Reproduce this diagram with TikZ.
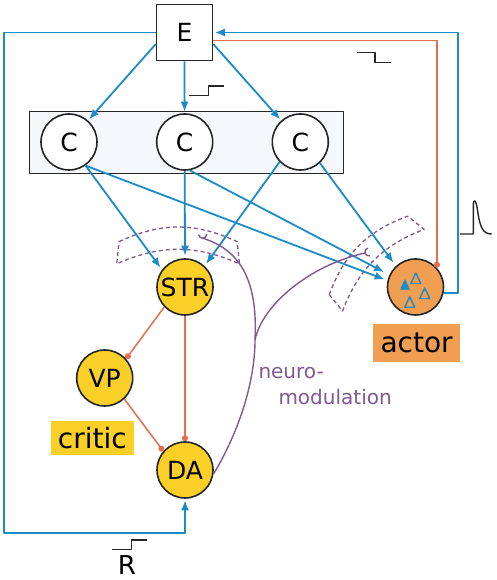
\documentclass[tikz,border=0pt]{standalone}
\usepackage{fontspec}
\setmainfont{DejaVu Sans}
\usetikzlibrary{arrows.meta}

\definecolor{axonblue}{RGB}{27,140,200}
\definecolor{inhibred}{RGB}{224,112,80}
\definecolor{critfill}{RGB}{250,208,40}
\definecolor{actfill}{RGB}{239,158,82}
\definecolor{modul}{RGB}{128,88,148}
\definecolor{boxgray}{RGB}{245,247,250}

\tikzset{
  synband/.pic={
    \draw[modul,line width=1.3pt,dash pattern=on 4pt off 3pt]
      (-59,11.3) to[bend left=25] (59,11.3) -- (61.4,-11)
      to[bend right=24] (-61.4,-11) -- cycle;
  }
}

\begin{document}
\begin{tikzpicture}[x=1pt,y=1pt,line join=round,
  unit/.style={circle,draw=black!85,line width=1.6pt,minimum size=56pt,inner sep=0pt,font=\fontsize{25}{30}\selectfont},
  crit/.style={unit,fill=critfill},
  feed/.style={axonblue,line width=1.8pt,-{Latex[length=10pt,width=8pt]},shorten >=1.5pt},
  inhib/.style={inhibred,line width=1.5pt,-{Circle[length=6pt]}},
  modline/.style={modul,line width=1.4pt},
  signal/.style={black!85,line width=1.4pt},
  tag/.style={inner sep=0pt,font=\fontsize{28}{34}\selectfont}]

\def\tw{5} %triangle half width
\def\th{10.5} %triangle height
\def\cr{4} %cup radius

\fill[white] (0,0) rectangle (497,580);
\useasboundingbox (0,0) rectangle (497,580);

%environment and cortex
\node[draw=black!85,line width=1.6pt,minimum size=56pt,inner sep=0pt,font=\fontsize{25}{30}\selectfont] (E) at (184.5,547.5) {E};
\node[draw=black!85,line width=1.6pt,fill=boxgray,minimum width=314pt,minimum height=62pt] (cbox) at (186.65,437.65) {};
\node[unit,fill=white] (C1) at (69,438) {C};
\node[unit,fill=white] (C2) at (184.7,438) {C};
\node[unit,fill=white] (C3) at (300.3,438) {C};

%critic
\node[crit] (STR) at (185,293) {STR};
\node[crit] (VP) at (104.7,202) {VP};
\node[crit] (DA) at (185,110) {DA};
\node[tag,fill=critfill,minimum width=83.3pt,minimum height=34.3pt] (criticlabel) at (92.35,141.8) {critic};

%actor
\node[unit,fill=actfill] (actor) at (415.5,293) {};
\node[tag,fill=actfill,minimum width=86.7pt,minimum height=37.7pt] (actorlabel) at (416.65,237.15) {actor};
\fill[axonblue] ([shift={(-10.5-\tw,2.7-\th/2)}]actor.center) -- ++(2*\tw,0) -- ++(-\tw,\th) -- cycle;
\foreach \dx/\dy in {0.3/8.7, 9.2/-6.3, -5.8/-15}
  \draw[axonblue,line width=1.4pt] ([shift={(\dx-\tw,\dy-\th/2)}]actor.center) -- ++(2*\tw,0) -- ++(-\tw,\th) -- cycle;

%synapse bands
\pic at (178.1,327.1) {synband};
\pic[rotate=45,scale=.94] at (376,317.1) {synband};

%E to cortex
\draw[feed] (E.202) -- (C1);
\draw[feed] (E.south) -- (C2);
\draw[feed] (E.-22) -- (C3);

%cortex to striatum and actor
\draw[feed,shorten >=2.5pt] (C1.-55) -- (STR.143);
\draw[feed,shorten >=2.5pt] (C2.south) -- (STR.north);
\draw[feed,shorten >=2.5pt] (C3.224) -- (STR.47);
\draw[feed,shorten >=3pt] (C1.-55) -- (actor.167);
\draw[feed,shorten >=6pt] (C2.-80) -- (actor.155);
\draw[feed,shorten >=4pt] (C3.-47) -- (actor.133);

%loops
\coordinate (rc) at (4.3,47);
\coordinate (rtop) at (458.3,547.5);
\draw[feed] (E.west) -| (rc) -| (DA.south);
\draw[feed] (actor.-12) -| (rtop) -- (E.east);
\draw[inhib] ([yshift=-8pt]E.east) -| (actor.42);

%critic wiring
\draw[inhib] (STR.224) -- (VP.42);
\draw[inhib] (STR.south) -- (DA.north);
\draw[inhib] (VP.-47) -- (DA.139.6);

%neuromodulation
\coordinate (nm) at (255,240);
\coordinate (sA) at (203,341.7);
\coordinate (sB) at (365,327);
\draw[modline] (DA.-8) .. controls (240,150) and (255,200) .. (nm);
\draw[modline] (nm) .. controls (258,300) and (240,330) .. (sA)
  ([shift={(95:\cr)}]sA) ++(185:\cr) arc[start angle=185,end angle=365,radius=\cr];
\draw[modline] (nm) .. controls (262,275) and (310,315) .. (sB)
  ([shift={(15:\cr)}]sB) ++(105:\cr) arc[start angle=105,end angle=285,radius=\cr];
\node[modul,inner sep=0pt,anchor=base west,font=\fontsize{20}{26}\selectfont] (nmlabel) at (258.3,201) {neuro-};
\node[modul,inner sep=0pt,anchor=base west,font=\fontsize{20}{26}\selectfont] (nmlabelb) at (278.3,175) {modulation};

%signal shapes
\draw[signal] (356.7,527.7) -- (375,527.7) -- (375,517.3) -- (391,517.3);
\draw[signal] (189.3,484.3) -- (208.3,484.3) -- (208.3,494) -- (224,494);
\draw[signal] (112.3,30.7) -- (131.7,30.7) -- (131.7,40) -- (146.7,40);
\draw[signal] (460,346) -- (473.3,346) -- (473.3,376)
  .. controls (473.5,381) and (476,381) .. (477.5,370)
  .. controls (480,352) and (483,346) .. (491.7,346);
\node[inner sep=0pt,font=\fontsize{26}{30}\selectfont] (rlabel) at (127,14.5) {R};

\end{tikzpicture}
\end{document}
